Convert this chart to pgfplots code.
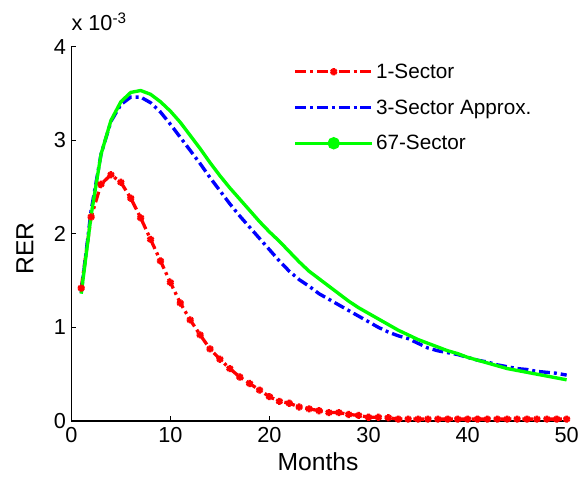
\documentclass[border=0pt]{standalone}
\usepackage{fontspec}
\setmainfont{Liberation Sans}
\usepackage{pgfplots}
\usepackage{pgfplotstable}
\pgfplotsset{compat=1.18}
\pgfplotstableread{
m r
1 1.42
2 2.18
3 2.53
4 2.63
5 2.55
6 2.38
7 2.17
8 1.94
9 1.71
10 1.48
11 1.26
12 1.08
13 0.92
14 0.77
15 0.66
16 0.56
17 0.47
18 0.40
19 0.33
20 0.26
21 0.21
22 0.19
23 0.15
24 0.13
25 0.11
26 0.09
27 0.09
28 0.07
29 0.06
30 0.04
31 0.04
32 0.035
33 0.02
34 0.02
35 0.02
36 0.02
37 0.02
38 0.02
39 0.02
40 0.02
41 0.02
42 0.02
43 0.02
44 0.02
45 0.02
46 0.02
47 0.02
48 0.02
49 0.02
50 0.02
}\oneSector
\pgfplotstableread{
m b
1 1.37
2 2.25
3 2.85
4 3.20
5 3.38
6 3.46
7 3.46
8 3.40
9 3.30
10 3.17
11 3.03
12 2.89
13 2.75
14 2.60
15 2.46
16 2.32
17 2.19
18 2.07
19 1.95
20 1.83
21 1.71
22 1.60
23 1.51
24 1.44
25 1.36
26 1.30
27 1.24
28 1.18
29 1.12
30 1.06
31 1.00
32 0.95
33 0.91
34 0.88
35 0.83
36 0.78
37 0.75
38 0.73
39 0.71
40 0.68
41 0.65
42 0.63
43 0.60
44 0.58
45 0.56
46 0.55
47 0.53
48 0.52
49 0.51
50 0.49
}\threeSector
\pgfplotstableread{
m g
1 1.36
2 2.20
3 2.85
4 3.21
5 3.41
6 3.51
7 3.53
8 3.49
9 3.41
10 3.31
11 3.19
12 3.05
13 2.91
14 2.76
15 2.62
16 2.49
17 2.37
18 2.25
19 2.13
20 2.02
21 1.92
22 1.81
23 1.70
24 1.60
25 1.52
26 1.44
27 1.36
28 1.28
29 1.21
30 1.15
31 1.09
32 1.03
33 0.97
34 0.92
35 0.87
36 0.83
37 0.79
38 0.75
39 0.72
40 0.68
41 0.65
42 0.62
43 0.59
44 0.56
45 0.54
46 0.52
47 0.50
48 0.48
49 0.46
50 0.44
}\sixtySevenSector
\definecolor{mred}{RGB}{255,0,0}
\definecolor{mblue}{RGB}{0,0,255}
\definecolor{mgreen}{RGB}{0,255,0}
\pgfplotsset{
  legredimg/.style={legend image code/.code={\draw[##1, mark repeat=2, mark phase=2] plot coordinates {(0bp,0bp) (39bp,0bp) (78bp,0bp)};}},
  legblueimg/.style={legend image code/.code={\draw[##1] plot coordinates {(0bp,0bp) (78bp,0bp)};}},
  leggreenimg/.style={legend image code/.code={\draw[##1] (0bp,0bp) -- (78bp,0bp); \fill[mgreen] (39bp,0bp) circle (4.5bp);}},
}
\begin{document}
\begin{tikzpicture}
\begin{axis}[
  scale only axis, width=500bp, height=378bp,
  xmin=0, xmax=50, ymin=0, ymax=4,
  axis x line*=bottom, axis y line*=left,
  axis line style={line width=1.3bp, black},
  xtick={0,10,20,30,40,50}, ytick={0,1,2,3,4},
  tick align=inside, major tick length=5bp,
  tick style={line width=1.1bp, black},
  /pgf/number format/assume math mode=true,
  ticklabel style={font=\fontsize{22}{26}\selectfont},
  xticklabel style={yshift=-3bp},
  yticklabel style={xshift=-2bp},
  xlabel={Months}, ylabel={RER},
  label style={font=\fontsize{25}{30}\selectfont},
  xlabel style={at={(axis description cs:0.498,-0.108)}, anchor=center},
  ylabel style={at={(axis description cs:-0.094,0.46)}, anchor=center, rotate=0},
  legend style={draw=none, fill=none, at={(axis description cs:0.442,0.965)}, anchor=north west,
    font=\fontsize{21}{25}\selectfont, row sep=16bp},
  legend cell align=left,
  clip=false,
]
\addplot[mred, line width=3.3bp, dash pattern=on 11bp off 4bp on 3bp off 4bp,
  mark=asterisk, mark size=3.6bp, mark options={solid, line width=2.6bp, fill=mred, draw=mred}, legredimg]
  table[x=m, y=r] {\oneSector};
\addlegendentry{1-Sector}
\addplot[mblue, line width=3.4bp, dash pattern=on 11bp off 4bp on 3bp off 4bp, legblueimg]
  table[x=m, y=b] {\threeSector};
\addlegendentry{3-Sector Approx.}
\addplot[mgreen, line width=3.4bp, leggreenimg]
  table[x=m, y=g] {\sixtySevenSector};
\addlegendentry{67-Sector}
\node[anchor=base west, inner sep=0pt, font=\fontsize{22}{26}\selectfont] at (axis description cs:0,1.042) {x 10\textsuperscript{-3}};
\path (axis description cs:-0.1440,-0.1799) rectangle (axis description cs:1.020,1.1243);
\end{axis}
\end{tikzpicture}
\end{document}
